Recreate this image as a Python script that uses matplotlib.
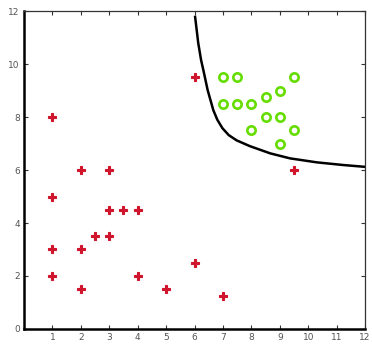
import matplotlib
matplotlib.use("Agg")
import matplotlib.pyplot as plt

# Class 1 (red crosses)
red_x = [1, 1, 1, 1, 2, 2, 2, 2.5, 3, 3, 3, 3.5, 4, 4, 5, 6, 6, 7, 9.5]
red_y = [8, 5, 3, 2, 6, 3, 1.5, 3.5, 6, 4.5, 3.5, 4.5, 4.5, 2, 1.5, 9.5, 2.5, 1.25, 6]

# Class 2 (green circles)
green_x = [7, 7.5, 9.5, 7, 7.5, 8, 8.5, 9, 8.5, 9, 8, 9.5, 9]
green_y = [9.5, 9.5, 9.5, 8.5, 8.5, 8.5, 8.75, 9, 8, 8, 7.5, 7.5, 7]

# Decision boundary
curve_x = [6.02, 6.13, 6.23, 6.31, 6.46, 6.66, 6.80, 6.98, 7.20, 7.48, 7.95, 8.66, 9.36, 10.30, 11.22, 12.0]
curve_y = [11.78, 10.79, 10.15, 9.77, 9.02, 8.26, 7.90, 7.58, 7.32, 7.12, 6.90, 6.63, 6.44, 6.29, 6.19, 6.12]

x_ticks = list(range(1, 13))
y_ticks = [0, 2, 4, 6, 8, 10, 12]

fig = plt.figure(figsize=(3.72, 3.47), dpi=100)
ax = fig.add_axes([0.0645, 0.052, 0.917, 0.916])

ax.plot(curve_x, curve_y, color='black', lw=1.8, zorder=2, solid_joinstyle='round')
ax.plot(red_x, red_y, linestyle='none', marker='P', markersize=5.5,
        color='#d0142c', markeredgecolor='#d0142c', markeredgewidth=0.8, zorder=3)
ax.plot(green_x, green_y, linestyle='none', marker='o', markersize=6,
        markerfacecolor='white', markeredgecolor='#66dd00', markeredgewidth=1.9, zorder=3)

ax.set_xlim(0, 12)
ax.set_ylim(0, 12)
ax.set_xticks(x_ticks)
ax.set_yticks(y_ticks)
ax.tick_params(direction='in', length=3, width=0.8, labelsize=6.5,
               labelcolor='#555555', color='#333333',
               top=True, right=True, pad=3)
for s in ['left', 'bottom']:
    ax.spines[s].set_linewidth(1.8)
    ax.spines[s].set_color('black')
for s in ['top', 'right']:
    ax.spines[s].set_linewidth(0.9)
    ax.spines[s].set_color('#333333')

fig.savefig('out.png', dpi=100)
